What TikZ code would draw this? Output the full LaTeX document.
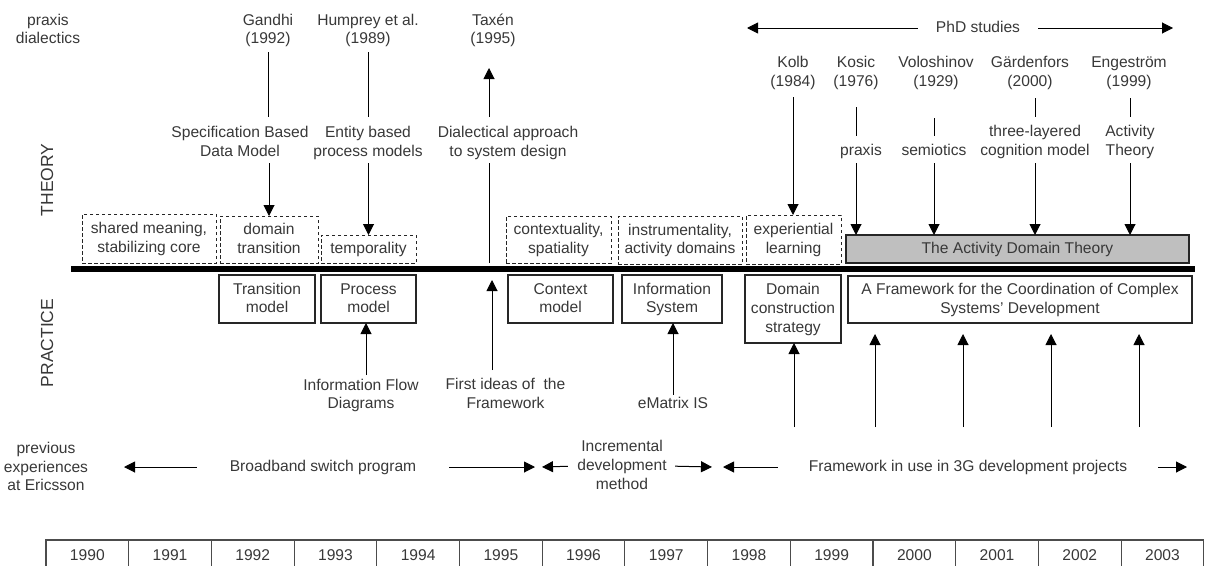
\documentclass[tikz,border=0pt]{standalone}
\usepackage{fontspec}
\setmainfont{Liberation Sans}
\usetikzlibrary{arrows.meta}
\newcommand\sr{\rule[-4.8pt]{0pt}{18.6pt}}
\begin{document}
\begin{tikzpicture}[x=1pt,y=-1pt,
  font=\fontsize{15.6}{18.6}\selectfont, text=black!78,
  lbl/.style={inner sep=0pt,outer sep=0pt,align=center},
  side/.style={inner sep=0pt,outer sep=0pt,rotate=90,font=\fontsize{17.5}{20}\selectfont},
  dbox/.style={draw=black!85,dash pattern=on 3.5pt off 2.5pt,line width=1pt,inner sep=0pt,outer sep=0pt,align=center},
  sbox/.style={draw=black!85,line width=1.1pt,inner sep=0pt,outer sep=0pt,align=center},
  ln/.style={draw=black,line width=1pt},
  arr/.style={ln,-{Triangle[length=11pt,width=11pt]}},
  yr/.style={draw=black!70,line width=1.1pt,minimum width=82.7pt,minimum height=30pt,inner sep=0pt,outer sep=0pt}]
\useasboundingbox (0,0) rectangle (1209,565);
\clip (0,0) rectangle (1209,565);

% side labels
\node[lbl] (pd) at (48,30) {\sr praxis\\\sr dialectics};
\node[side] (theory) at (47,180) {THEORY};
\node[side] (practice) at (47,343) {PRACTICE};

% sources (top)
\node[lbl] (gandhi) at (268,30) {\sr Gandhi\\\sr (1992)};
\node[lbl] (humprey) at (368,30) {\sr Humprey et al.\\\sr (1989)};
\node[lbl] (taxen) at (493,30) {\sr Taxén\\\sr (1995)};
\node[lbl] (phd) at (978,28) {\sr PhD studies};
\node[lbl] (kolb) at (793,72.5) {\sr Kolb\\\sr (1984)};
\node[lbl] (kosic) at (856,72.5) {\sr Kosic\\\sr (1976)};
\node[lbl] (volo) at (936,72.5) {\sr Voloshinov\\\sr (1929)};
\node[lbl] (gard) at (1030,72.5) {\sr Gärdenfors\\\sr (2000)};
\node[lbl] (enge) at (1129,72.5) {\sr Engeström\\\sr (1999)};

% concepts
\node[lbl] (spec) at (240,142.5) {\sr Specification Based\\\sr Data Model};
\node[lbl] (entity) at (368,142.5) {\sr Entity based\\\sr process models};
\node[lbl] (dial) at (508,142.5) {\sr Dialectical approach\\\sr to system design};
\node[lbl] (praxis) at (861,151) {\sr praxis};
\node[lbl] (semiotics) at (934,151) {\sr semiotics};
\node[lbl] (three) at (1035,141.5) {\sr three-layered\\\sr cognition model};
\node[lbl] (actth) at (1130,141.5) {\sr Activity\\\sr Theory};

% theory boxes
\node[dbox,minimum width=134pt,minimum height=49pt] (shared) at (149,238.5) {\sr shared meaning,\\\sr stabilizing core};
\node[dbox,minimum width=98pt,minimum height=47pt] (dtrans) at (269,239.5) {\sr domain\\\sr transition};
\node[dbox,minimum width=95pt,minimum height=28pt] (temp) at (368.5,249) {\sr temporality};
\node[dbox,minimum width=105pt,minimum height=47pt] (ctx) at (558.5,239.5) {\sr contextuality,\\\sr spatiality};
\node[dbox,minimum width=124pt,minimum height=48pt] (instr) at (680,240) {\sr instrumentality,\\\sr activity domains};
\node[dbox,minimum width=95pt,minimum height=49pt] (exper) at (793.5,239.5) {\sr experiential\\\sr learning};
\node[sbox,fill=black!25,minimum width=343pt,minimum height=28pt] (adt) at (1017.5,249) {\sr The Activity Domain Theory};

% bar
\node[fill=black,minimum width=1124pt,minimum height=6pt,inner sep=0pt,outer sep=0pt] (bar) at (633,269) {};

% practice boxes
\node[sbox,minimum width=96pt,minimum height=48pt] (transmod) at (267,299) {\sr Transition\\\sr model};
\node[sbox,minimum width=95pt,minimum height=48pt] (procmod) at (368.5,299) {\sr Process\\\sr model};
\node[sbox,minimum width=105pt,minimum height=48pt] (ctxmod) at (560.5,299) {\sr Context\\\sr model};
\node[sbox,minimum width=100pt,minimum height=48pt] (infosys) at (672,299) {\sr Information\\\sr System};
\node[sbox,minimum width=96pt,minimum height=68pt] (dcs) at (793,309) {\sr Domain\\\sr construction\\\sr strategy};
\node[sbox,minimum width=344pt,minimum height=47pt] (fw) at (1020,299.5) {\sr A Framework for the Coordination of Complex\\\sr Systems’ Development};

% practice sources
\node[lbl] (ifd) at (361,395) {\sr Information Flow\\\sr Diagrams};
\node[lbl] (first) at (505.5,394.5) {\sr First ideas of\ \ the\\\sr Framework};
\node[lbl] (ematrix) at (673,404) {\sr eMatrix IS};

% periods
\node[lbl] (prev) at (46,467.5) {\sr previous\\\sr experiences\\\sr at Ericsson};
\node[lbl] (bb) at (323,467) {\sr Broadband switch program};
\node[lbl] (incr) at (622,466) {\sr Incremental\\\sr development\\\sr method};
\node[lbl] (fwuse) at (968,467) {\sr Framework in use in 3G development projects};

% timeline
\foreach \i in {0,...,13}{
  \pgfmathtruncatemacro\yy{1990+\i}
  \node[yr] (y\yy) at ({46+82.7*(\i+0.5)},555) {\yy};
}

% free ends
\coordinate (phdL) at (747,28);
\coordinate (phdR) at (1173,28);
\coordinate (taxfoot) at (489,117);
\coordinate (ifdfoot) at (366,375);
\coordinate (firstfoot) at (492,370);
\coordinate (dcsfoot) at (794,427);
\coordinate (fa) at (875,427);
\coordinate (fb) at (963,427);
\coordinate (fc) at (1051,427);
\coordinate (fd) at (1139,427);
\coordinate (bbL) at (124,467);
\coordinate (bbR) at (535,467);
\coordinate (inL) at (542,467);
\coordinate (inR) at (712,467);
\coordinate (fuL) at (723,467);
\coordinate (fuR) at (1187,467);

% theory connectors
\draw[ln,shorten <=3.4pt,shorten >=6.9pt] (gandhi.south) -- (gandhi.south |- spec.north);
\draw[arr,shorten <=2pt] (spec.south -| dtrans.north) -- (dtrans.north);
\draw[ln,shorten <=3.4pt,shorten >=6.9pt] (humprey.south) -- (humprey.south |- entity.north);
\draw[arr,shorten <=2pt] (entity.south -| temp.north) -- (temp.north);
\draw[arr,shorten >=19.4pt] (taxfoot) -- (taxfoot |- taxen.south);
\draw[ln,shorten <=2pt,shorten >=3pt] (taxfoot |- dial.south) -- (taxfoot |- bar.north);
\draw[arr,shorten <=5.9pt] (kolb.south) -- (kolb.south |- exper.north);
\draw[ln,shorten <=15.9pt,shorten >=5.7pt] (kosic.south) -- (kosic.south |- praxis.north);
\draw[arr,shorten <=2.7pt] (kosic |- praxis.south) -- (kosic |- adt.north);
\draw[ln,shorten <=26.9pt,shorten >=5.7pt] (semiotics |- volo.south) -- (semiotics.north);
\draw[arr,shorten <=2.7pt] (semiotics.south) -- (semiotics |- adt.north);
\draw[ln,shorten <=6.9pt,shorten >=5.9pt] (three |- gard.south) -- (three.north);
\draw[arr,shorten <=2.9pt] (three.south) -- (three |- adt.north);
\draw[ln,shorten <=6.9pt,shorten >=5.9pt] (actth |- enge.south) -- (actth.north);
\draw[arr,shorten <=2.9pt] (actth.south) -- (actth |- adt.north);
\draw[arr,shorten <=18pt] (phd.west) -- (phdL);
\draw[arr,shorten <=18pt] (phd.east) -- (phdR);

% practice connectors
\draw[arr] (ifdfoot) -- (ifdfoot |- procmod.south);
\draw[arr,shorten >=8pt] (firstfoot) -- (firstfoot |- bar.south);
\draw[arr] (ematrix.north) -- (ematrix.north |- infosys.south);
\draw[arr] (dcsfoot) -- (dcsfoot |- dcs.south);
\foreach \f in {fa,fb,fc,fd}{
  \draw[arr,shorten >=11pt] (\f) -- (\f |- fw.south);
}

% period arrows
\draw[arr,shorten <=33pt] (bb.west) -- (bbL);
\draw[arr,shorten <=33pt] (bb.east) -- (bbR);
\draw[arr,shorten <=9.5pt] (incr.west) -- (inL);
\draw[arr,shorten <=8.5pt] (incr.east) -- (inR);
\draw[arr,shorten <=31pt] (fwuse.west) -- (fuL);
\draw[arr,shorten <=31pt] (fwuse.east) -- (fuR);
\end{tikzpicture}
\end{document}
